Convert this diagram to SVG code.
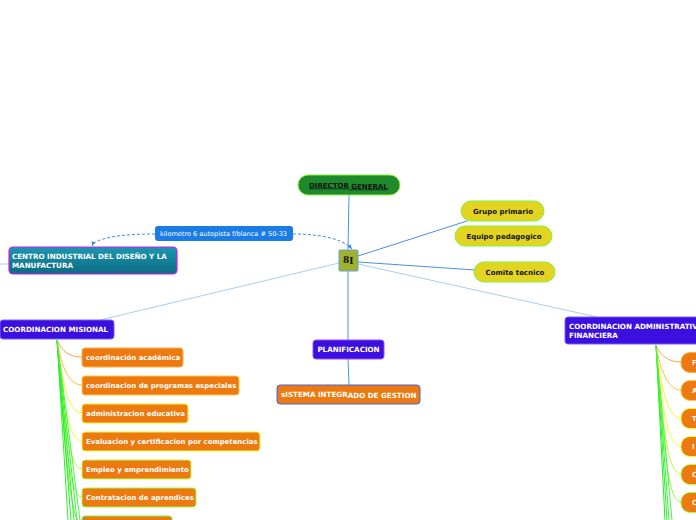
<svg xmlns="http://www.w3.org/2000/svg" width="696" height="520" viewBox="0 0 696 520">
<defs>
<style>
.t{font-family:"DejaVu Sans",Verdana,sans-serif;font-weight:bold;font-size:6.95px;fill:#fff}
.u{font-size:7.15px}
.tb{font-family:"DejaVu Sans",Verdana,sans-serif;font-weight:bold;font-size:7px;fill:#111}
.or{fill:#ec7a10}
.pu{fill:#3a0fe0}
.ye{fill:#e3d422;stroke:#7cf53a;stroke-width:1}
.c{fill:none;stroke-width:1}
</style>
<linearGradient id="teal" x1="0" y1="0" x2="0" y2="1">
<stop offset="0" stop-color="#1d97b0"/>
<stop offset="1" stop-color="#0c6a84"/>
</linearGradient>
<marker id="ah" viewBox="0 0 10 10" refX="9" refY="5" markerWidth="5" markerHeight="5" orient="auto">
<path d="M0,1 L9,5 L0,9 z" fill="#3b8be6"/>
</marker>
</defs>
<rect width="696" height="520" fill="#fff"/>
<g id="connectors">
<line x1="349" y1="195" x2="348" y2="250" stroke="#4a8fe6" class="c"/>
<line x1="358" y1="256" x2="467" y2="221" stroke="#4a8fe6" class="c"/>
<line x1="358" y1="262" x2="475" y2="270" stroke="#4a8fe6" class="c"/>
<line x1="348" y1="271" x2="348" y2="340" stroke="#4a8fe6" class="c"/>
<line x1="348" y1="359" x2="349" y2="385" stroke="#4a8fe6" class="c"/>
<line x1="358" y1="264" x2="597" y2="317" stroke="#a8cdea" class="c"/>
<line x1="339" y1="263" x2="100" y2="320" stroke="#a8cdea" class="c"/>
<line x1="0" y1="264" x2="9" y2="264" stroke="#a8cdea" class="c"/>
<path d="M293,234 C310,234 340,236 352,249" stroke="#3b8be6" stroke-dasharray="3,2" class="c" marker-end="url(#ah)"/>
<path d="M155,234 C120,234 95,238 92,246" stroke="#3b8be6" stroke-dasharray="3,2" class="c" marker-end="url(#ah)"/>
<path d="M57,340 C62,352 70,357 82,357" stroke="#ffa23a" class="c"/>
<path d="M57,340 C62,370 70,385 82,385" stroke="#ffbf3a" class="c"/>
<path d="M57,340 C63,390 70,413 82,413" stroke="#ffee2a" class="c"/>
<path d="M57,340 C64,410 70,441 82,441" stroke="#e6ff2a" class="c"/>
<path d="M57,340 C65,430 70,469 82,469" stroke="#b8ff2a" class="c"/>
<path d="M57,340 C66,450 70,497 82,497" stroke="#8cff2a" class="c"/>
<path d="M57,340 C66,470 72,525 82,525" stroke="#60ff2a" class="c"/>
<path d="M57,340 L68,520" stroke="#30f030" class="c"/>
<path d="M57,340 L71,520" stroke="#20ee20" class="c"/>
<path d="M57,340 L74,520" stroke="#30f030" class="c"/>
<path d="M57,340 L77,520" stroke="#40f040" class="c"/>
<path d="M57,340 L80,520" stroke="#50f050" class="c"/>
<path d="M656,345 C660,355 668,362 681,362" stroke="#ffa23a" class="c"/>
<path d="M656,345 C660,370 668,390 681,390" stroke="#ffbf3a" class="c"/>
<path d="M656,345 C661,390 668,418 681,418" stroke="#ffee2a" class="c"/>
<path d="M656,345 C662,410 668,446 681,446" stroke="#e6ff2a" class="c"/>
<path d="M656,345 C663,430 668,474 681,474" stroke="#b8ff2a" class="c"/>
<path d="M656,345 C664,450 668,502 681,502" stroke="#8cff2a" class="c"/>
<path d="M656,345 L665,520" stroke="#20ee20" class="c"/>
<path d="M656,345 L667,520" stroke="#30f030" class="c"/>
<path d="M656,345 L669,520" stroke="#40f040" class="c"/>
<path d="M656,345 L672,520" stroke="#50f050" class="c"/>
</g>
<g id="director">
<rect x="298" y="175" width="102" height="20" rx="10" fill="#1f8a2c" stroke="#8ef03a" stroke-width="1"/>
<text class="tb" x="309" y="187.5" font-size="7.5" text-decoration="underline">DIRECTOR<tspan dy="1"> GENERAL</tspan></text>
</g>
<g id="center">
<rect x="339" y="250" width="19" height="21" rx="1" fill="#9fb230" stroke="#6aa0d6" stroke-width="1"/>
<text x="343" y="263" font-family="'DejaVu Serif',serif" font-weight="bold" font-size="9" fill="#111">8<tspan dy="1">I</tspan></text>
</g>
<g id="address">
<rect x="155" y="226" width="138" height="15" rx="3" fill="#1a7ce4"/>
<text x="160" y="236" font-family="'DejaVu Sans',sans-serif" font-size="6.55" fill="#fff">kilometro 6 autopista f/blanca # 50-33</text>
</g>
<g id="centro">
<rect x="9" y="247" width="168" height="27" rx="4" fill="url(#teal)" stroke="#d21cf0" stroke-width="1.2"/>
<text class="t u" x="12" y="259">CENTRO INDUSTRIAL DEL DISEÑO Y LA</text>
<text class="t u" x="12" y="268">MANUFACTURA</text>
</g>
<g id="grupo">
<rect class="ye" x="461" y="201" width="83" height="20" rx="10"/>
<text class="tb" x="503" y="213.5" text-anchor="middle">Grupo primario</text>
</g>
<g id="equipo">
<rect class="ye" x="455" y="226" width="97" height="20" rx="10"/>
<text class="tb" x="504" y="238.5" text-anchor="middle">Equipo pedagogico</text>
</g>
<g id="comite">
<rect class="ye" x="474" y="262" width="81" height="20" rx="10"/>
<text class="tb" x="515" y="274.5" text-anchor="middle">Comite tecnico</text>
</g>
<g id="planificacion">
<rect class="pu" x="313" y="340" width="71" height="19" rx="3" stroke="#9a4cff" stroke-width="1"/>
<text class="t u" x="348.5" y="352" text-anchor="middle">PLANIFICACION</text>
</g>
<g id="sistema">
<rect class="or" x="277" y="385" width="143" height="19" rx="3" stroke="#4566e6" stroke-width="1"/>
<text class="t u" x="281" y="396.5">sISTEMA INTEGR<tspan dy="1">ADO DE GESTION</tspan></text>
</g>
<g id="misional">
<rect class="pu" x="0" y="320" width="114" height="19" rx="3" stroke="#7a5cff" stroke-width="1"/>
<text class="t u" x="3" y="332">COORDINACION MISIONAL</text>
</g>
<g id="m1"><rect class="or" x="82" y="348" width="101" height="19" rx="3" stroke="#ffae40"/><text class="t" x="86" y="360">coordinación académica</text></g>
<g id="m2"><rect class="or" x="82" y="376" width="157" height="19" rx="3" stroke="#ffc840"/><text class="t" x="86" y="388">coordinacion de programas especiales</text></g>
<g id="m3"><rect class="or" x="82" y="404" width="106" height="19" rx="3" stroke="#fff020"/><text class="t" x="86" y="416">administracion educativa</text></g>
<g id="m4"><rect class="or" x="82" y="432" width="178" height="19" rx="3" stroke="#e8ff30"/><text class="t" x="86" y="444">Evaluacion y certificacion por competencias</text></g>
<g id="m5"><rect class="or" x="82" y="460" width="109" height="19" rx="3" stroke="#b8ff40"/><text class="t" x="86" y="472">Empleo y emprendimiento</text></g>
<g id="m6"><rect class="or" x="82" y="488" width="114" height="19" rx="3" stroke="#98ff40"/><text class="t" x="86" y="500">Contratacion de aprendices</text></g>
<g id="m7"><rect class="or" x="82" y="516" width="90" height="19" rx="3" stroke="#68ff40"/></g>
<g id="administrativa">
<rect class="pu" x="565" y="317" width="150" height="27" rx="3" stroke="#7a5cff" stroke-width="1"/>
<text class="t u" x="569" y="329">COORDINACION ADMINISTRATIVA Y</text>
<text class="t u" x="569" y="338">FINANCIERA</text>
</g>
<g id="a1"><rect class="or" x="681" y="352.5" width="40" height="20" rx="9" stroke="#ffae40"/><text class="t" x="692" y="365">F</text></g>
<g id="a2"><rect class="or" x="681" y="380.5" width="40" height="20" rx="9" stroke="#ffc840"/><text class="t" x="692" y="393">A</text></g>
<g id="a3"><rect class="or" x="681" y="408.5" width="40" height="20" rx="9" stroke="#fff020"/><text class="t" x="692" y="421">T</text></g>
<g id="a4"><rect class="or" x="681" y="436.5" width="40" height="20" rx="9" stroke="#e8ff30"/><text class="t" x="692" y="449">I</text></g>
<g id="a5"><rect class="or" x="681" y="464.5" width="40" height="20" rx="9" stroke="#b8ff40"/><text class="t" x="692" y="477">C</text></g>
<g id="a6"><rect class="or" x="681" y="492.5" width="40" height="20" rx="9" stroke="#98ff40"/><text class="t" x="692" y="505">C</text></g>
</svg>
